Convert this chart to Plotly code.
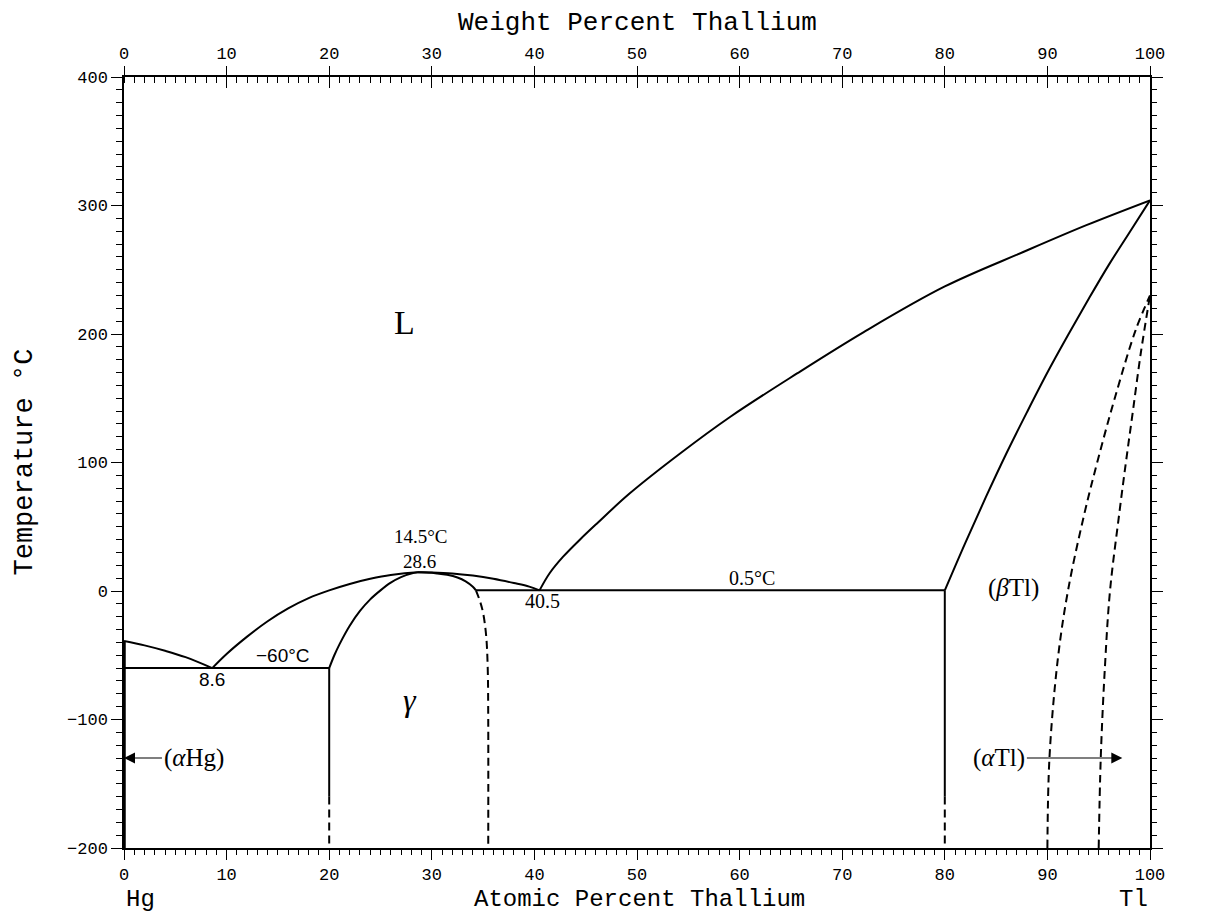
import plotly.graph_objects as go

# ---------------- data (atomic % Tl, temperature in degC) ----------------
liq_hg_x = [0, 2, 4, 6, 8.6]
liq_hg_t = [-38.836, -42.3, -46.5, -51.5, -60]

liq_gamma_x = [8.6, 10, 12, 14, 16, 18, 20, 22, 24, 26, 28.6, 30, 32, 34, 36, 38, 39.5, 40.5]
liq_gamma_t = [-60, -49, -35.5, -23.5, -13.5, -5.5, 0.5, 5.5, 9.5, 12.5, 14.5, 14.4, 13.7, 12.0, 9.5, 6.2, 3.4, 0.5]

gam_left_x = [20, 20.5, 21, 22, 23, 24, 25, 26, 27, 28, 28.6]
gam_left_t = [-60, -50, -41.5, -27, -15.5, -6.5, 0.5, 6.5, 10.8, 13.6, 14.5]

gam_right_x = [28.6, 29.5, 30.5, 31.5, 32.5, 33.3, 34.0, 34.3]
gam_right_t = [14.5, 14.3, 13.7, 12.6, 10.5, 7.5, 3.3, 0.5]

gam_right_dash_x = [34.3, 34.7, 35.0, 35.3, 35.45, 35.5, 35.5]
gam_right_dash_t = [0.5, -8, -17, -35, -60, -100, -200]

liq_tl_x = [40.5, 41.5, 42.8, 44.5, 46.1, 49.3, 54.2, 59.1, 65.6, 72.1, 80, 87.7, 93.8, 100]
liq_tl_t = [0.5, 14, 26.7, 40.5, 52.6, 76, 107, 135.6, 169.3, 201.5, 237, 264, 284.7, 304]

sol_tl_x = [80, 82, 84, 86, 88, 90, 92, 94, 96, 98, 100]
sol_tl_t = [0.5, 37.5, 73, 107, 139, 170, 199, 227, 254, 279, 304]

trans_a_x = [90.0, 90.2, 91.0, 92.0, 93.6, 95.0, 96.6, 98.6, 100]
trans_a_t = [-200, -130, -54, 0, 60, 104.5, 151, 203, 230]

trans_b_x = [95.0, 95.2, 95.6, 96.1, 97.0, 97.65, 98.3, 99.1, 100]
trans_b_t = [-200, -130, -60, 0, 60, 100, 138, 185, 230]

eut_hg_x = [0, 20]
eut_hg_t = [-60, -60]
eut_tl_x = [34.3, 80]
eut_tl_t = [0.5, 0.5]

v20_x = [20, 20]
v20_solid_t = [-60, -160]
v20_dash_t = [-160, -200]
v80_x = [80, 80]
v80_solid_t = [0.5, -160]
v80_dash_t = [-160, -200]

hg_x = [0, 0]
hg_t = [-38.836, -200]

x_ticks = [0, 10, 20, 30, 40, 50, 60, 70, 80, 90, 100]
wt_ticks = [0, 10, 20, 30, 40, 50, 60, 70, 80, 90, 100]
t_ticks = [-200, -100, 0, 100, 200, 300, 400]

# ---------------- figure ----------------
BLACK = "black"
MONO = "Liberation Mono"
SERIF = "Liberation Serif"
SANS = "Liberation Sans"
DASH = "8px,5px"

fig = go.Figure()


def add_line(x, y, dash="solid", width=2, shape="spline"):
    fig.add_trace(go.Scatter(
        x=x, y=y, mode="lines", showlegend=False, hoverinfo="skip",
        line=dict(color=BLACK, width=width, dash=dash, shape=shape,
                  smoothing=1.0 if shape == "spline" else None),
    ))


add_line(liq_hg_x, liq_hg_t)
add_line(liq_gamma_x, liq_gamma_t)
add_line(gam_left_x, gam_left_t)
add_line(gam_right_x, gam_right_t)
add_line(gam_right_dash_x, gam_right_dash_t, dash=DASH)
add_line(liq_tl_x, liq_tl_t)
add_line(sol_tl_x, sol_tl_t)
add_line(trans_a_x, trans_a_t, dash=DASH)
add_line(trans_b_x, trans_b_t, dash=DASH)
add_line(eut_hg_x, eut_hg_t, shape="linear")
add_line(eut_tl_x, eut_tl_t, shape="linear")
add_line(v20_x, v20_solid_t, shape="linear")
add_line(v20_x, v20_dash_t, dash=DASH, shape="linear")
add_line(v80_x, v80_solid_t, shape="linear")
add_line(v80_x, v80_dash_t, dash=DASH, shape="linear")
add_line(hg_x, hg_t, width=3.5, shape="linear")

# dummy traces so the extra axes are drawn
fig.add_trace(go.Scatter(x=[None], y=[None], xaxis="x2", yaxis="y2", showlegend=False))
fig.add_trace(go.Scatter(x=[None], y=[None], xaxis="x3", yaxis="y", showlegend=False))

tickfont = dict(family=MONO, size=17, color=BLACK)

# the page body adds an 8px margin, so the figure is sized to fit inside it
fig.update_layout(
    width=1203, height=905,
    margin=dict(l=116, r=61, t=69, b=65),
    paper_bgcolor="white", plot_bgcolor="white",
    showlegend=False,
    xaxis=dict(
        range=[0, 100], tickvals=x_ticks, ticks="outside", ticklen=10, tickwidth=1.3,
        tickcolor=BLACK, showline=True, linecolor=BLACK, linewidth=1.5,
        showgrid=False, zeroline=False, tickfont=tickfont,
        minor=dict(dtick=1, tick0=0, ticks="outside", ticklen=5, tickwidth=1, tickcolor=BLACK,
                   showgrid=False),
    ),
    xaxis2=dict(
        range=[0, 100], tickvals=wt_ticks, overlaying="x", side="top", anchor="y2",
        ticks="outside", ticklen=9, tickwidth=1.3, tickcolor=BLACK,
        showline=True, linecolor=BLACK, linewidth=1.5, showgrid=False, zeroline=False,
        tickfont=tickfont,
        minor=dict(dtick=1, tick0=0, ticks="inside", ticklen=6, tickwidth=1, tickcolor=BLACK,
                   showgrid=False),
    ),
    xaxis3=dict(
        range=[0, 100], tickvals=wt_ticks, overlaying="x", side="top", anchor="y",
        ticks="inside", ticklen=11, tickwidth=1.3, tickcolor=BLACK,
        showline=False, showgrid=False, zeroline=False, showticklabels=False,
    ),
    yaxis=dict(
        range=[-200, 400], tickvals=t_ticks, ticks="outside", ticklen=11, tickwidth=1.3,
        tickcolor=BLACK, showline=True, linecolor=BLACK, linewidth=1.5,
        showgrid=False, zeroline=False, tickfont=tickfont,
        minor=dict(dtick=10, tick0=0, ticks="outside", ticklen=6, tickwidth=1, tickcolor=BLACK,
                   showgrid=False),
    ),
    yaxis2=dict(
        range=[-200, 400], tickvals=t_ticks, overlaying="y", side="right", anchor="x2",
        ticks="outside", ticklen=11, tickwidth=1.3, tickcolor=BLACK,
        showline=True, linecolor=BLACK, linewidth=1.5, showgrid=False, zeroline=False,
        showticklabels=False,
        minor=dict(dtick=10, tick0=0, ticks="outside", ticklen=5, tickwidth=1, tickcolor=BLACK,
                   showgrid=False),
    ),
)

ann = []


def label(text, x, y, family=SERIF, size=20, xanchor="center", yanchor="middle",
          xref="x", yref="y", angle=0):
    ann.append(dict(text=text, x=x, y=y, xref=xref, yref=yref, showarrow=False,
                    xanchor=xanchor, yanchor=yanchor, textangle=angle,
                    font=dict(family=family, size=size, color=BLACK)))


# axis titles (paper coords relative to the 1026x771 plot area)
label("Weight Percent Thallium", 0.5, 1.0 + 54 / 771, family=MONO, size=26,
      xref="paper", yref="paper")
label("Atomic Percent Thallium", 0.502, -51 / 771, family=MONO, size=24,
      xref="paper", yref="paper")
label("Temperature °C", -100 / 1026, 0.5, family=MONO, size=27,
      xref="paper", yref="paper", angle=-90)
label("Hg", 0.0, -51 / 771, family=MONO, size=24, xanchor="left",
      xref="paper", yref="paper")
label("Tl", 1.0, -51 / 771, family=MONO, size=24, xanchor="right",
      xref="paper", yref="paper")

# phase labels
label("L", 27.3, 209, size=34)
label("<i>γ</i>", 27.9, -85, size=32)
label("(<i>β</i>Tl)", 86.7, 2.3, size=25)

# invariant labels
label("14.5°C", 28.9, 32.6, size=19, yanchor="bottom")
label("28.6", 28.8, 32.4, size=19, yanchor="top")
label("40.5", 40.8, -7.5, size=20)
label("0.5°C", 61.2, 9.9, size=20)
label("8.6", 8.6, -68.5, family=SANS, size=19)
label("−60°C", 15.5, -50.2, family=SANS, size=19)
label("−38.836°C", -0.7, -38, family=SANS, size=19, xanchor="right")
label("304°C", 101.0, 309, size=19, xanchor="left")
label("230°C", 101.0, 230.5, size=19, xanchor="left")

# arrows
ann.append(dict(text="(<i>α</i>Hg)", x=0, y=-130, ax=3.7, ay=-130, xref="x", yref="y",
                axref="x", ayref="y", xanchor="left", yanchor="middle", showarrow=True,
                arrowhead=2, arrowsize=2, arrowwidth=1.1, arrowcolor=BLACK, standoff=0,
                font=dict(family=SERIF, size=25, color=BLACK)))
ann.append(dict(text="(<i>α</i>Tl)", x=97.3, y=-130, ax=88.0, ay=-130, xref="x", yref="y",
                axref="x", ayref="y", xanchor="right", yanchor="middle", showarrow=True,
                arrowhead=2, arrowsize=2, arrowwidth=1.1, arrowcolor=BLACK, standoff=0,
                font=dict(family=SERIF, size=25, color=BLACK)))

fig.update_layout(annotations=ann)

fig.write_html("out.html")
